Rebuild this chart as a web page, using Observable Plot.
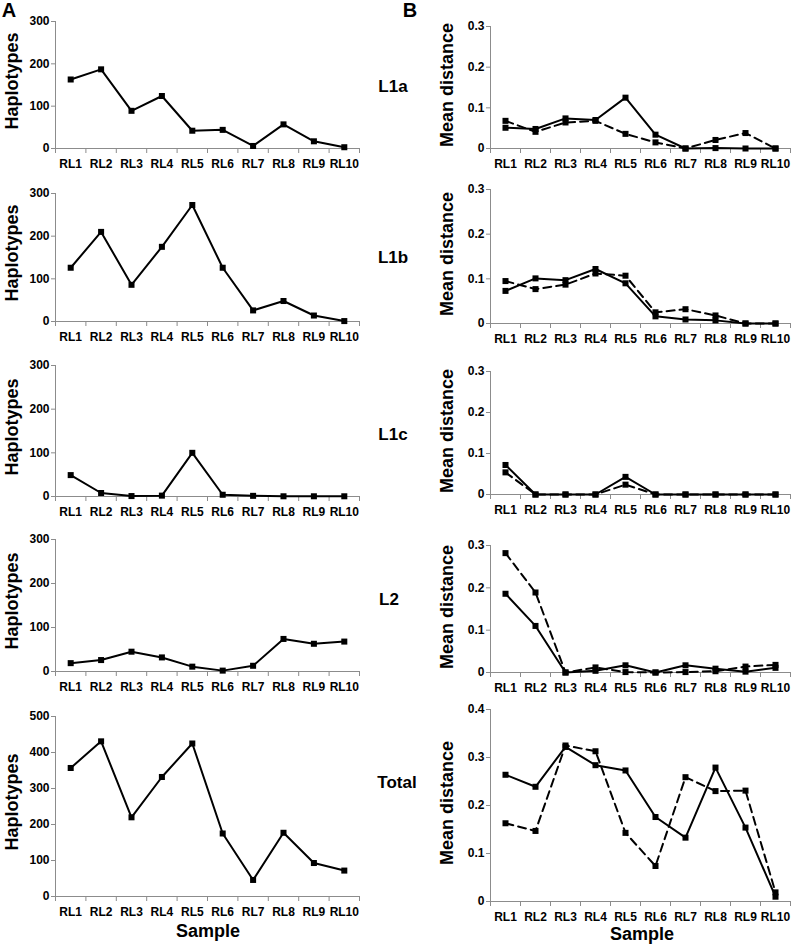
<!DOCTYPE html>
<html>
<head>
<meta charset="utf-8">
<script src="https://cdn.jsdelivr.net/npm/d3@7"></script>
<script src="https://cdn.jsdelivr.net/npm/@observablehq/plot@0.6"></script>
<style>
  html, body { margin: 0; padding: 0; background: #fff; }
  #wrap { position: relative; width: 800px; height: 944px; font-family: "Liberation Sans", Arial, sans-serif; font-weight: bold; color: #000; }
  .lbl { position: absolute; white-space: nowrap; font-weight: bold; transform: translate(-50%, -50%); }
  .rot { transform: translate(-50%, -50%) rotate(-90deg); }
  svg { position: absolute; overflow: visible; }
</style>
</head>
<body>
<div id="wrap"></div>
<script>
// ---- Data ----
const samples = ["RL1","RL2","RL3","RL4","RL5","RL6","RL7","RL8","RL9","RL10"];
const groups = ["L1a","L1b","L1c","L2","Total"];

// Panel A: number of haplotypes
const hapL1a  = [163, 187, 89, 124, 42, 44, 6, 57, 17, 3];
const hapL1b  = [126, 210, 86, 175, 273, 126, 26, 48, 14, 1];
const hapL1c  = [49, 8, 1, 2, 100, 4, 1.5, 0.5, 0.5, 0.5];
const hapL2   = [19, 26, 45, 32, 11, 2, 13, 74, 63, 68];
const hapTotal= [357, 431, 220, 332, 425, 175, 46, 177, 93, 72];

// Panel B: mean distance (solid and dashed series)
const distSolidL1a  = [0.051, 0.048, 0.074, 0.070, 0.125, 0.034, 0, 0.001, 0, 0];
const distDashedL1a = [0.068, 0.041, 0.064, 0.068, 0.036, 0.015, 0, 0.021, 0.038, 0];
const distSolidL1b  = [0.073, 0.101, 0.097, 0.122, 0.090, 0.016, 0.009, 0.007, 0, 0];
const distDashedL1b = [0.095, 0.077, 0.087, 0.112, 0.107, 0.025, 0.032, 0.018, 0, 0];
const distSolidL1c  = [0.072, 0, 0, 0, 0.043, 0, 0, 0, 0, 0];
const distDashedL1c = [0.054, 0, 0, 0, 0.024, 0, 0, 0, 0, 0];
const distSolidL2   = [0.186, 0.110, 0, 0.004, 0.017, 0, 0.017, 0.009, 0.002, 0.011];
const distDashedL2  = [0.282, 0.189, 0, 0.012, 0.001, 0, 0.001, 0.003, 0.014, 0.018];
const distSolidTotal  = [0.264, 0.239, 0.322, 0.284, 0.273, 0.176, 0.133, 0.279, 0.154, 0.010];
const distDashedTotal = [0.163, 0.147, 0.325, 0.313, 0.143, 0.074, 0.259, 0.230, 0.231, 0.019];

const hapTicksStd = [0, 100, 200, 300];
const hapTicksTotal = [0, 100, 200, 300, 400, 500];
const distTicksStd = [0, 0.1, 0.2, 0.3];
const distTicksTotal = [0, 0.1, 0.2, 0.3, 0.4];

const hapSeries = [hapL1a, hapL1b, hapL1c, hapL2, hapTotal];
const solidSeries = [distSolidL1a, distSolidL1b, distSolidL1c, distSolidL2, distSolidTotal];
const dashedSeries = [distDashedL1a, distDashedL1b, distDashedL1c, distDashedL2, distDashedTotal];

// ---- Layout (pixel geometry of each panel) ----
const rowsA = [[21,148],[193,321],[365,496],[539,671],[716,896]];
const rowsB = [[26,148],[189,323],[371,494],[545,672],[709,901]];
const colA = {left: 0, x0: 55, x1: 359};
const colB = {left: 400, x0: 490, x1: 790};
const groupLabelY = [87, 258, 435, 600, 783];

const wrap = document.getElementById("wrap");
const FONT = "Liberation Sans, Arial, sans-serif";

function toRows(vals) { return vals.map((v, i) => ({i: i + 1, label: samples[i], v})); }

function panel(col, row, yTicks, seriesList) {
  const mt = 12, mb = 32;
  const [yTop, yBot] = row;
  const width = 400;
  const height = (yBot - yTop) + mt + mb;
  const marks = [
    Plot.axisY({ticks: yTicks, tickSize: 4, tickPadding: 2, stroke: "#8c8c8c", fill: "#000",
      fontSize: 12, fontWeight: "bold", label: null, tickFormat: d => String(d)}),
    Plot.axisX({ticks: d3.range(0.5, 11, 1), tickSize: 5, tickFormat: () => "", stroke: "#8c8c8c", label: null}),
    Plot.axisX({ticks: d3.range(1, 11), tickSize: 0, tickPadding: 11, fill: "#000", fontSize: 12,
      fontWeight: "bold", tickFormat: d => samples[d - 1], label: null}),
    Plot.ruleX([0.5], {y1: 0, y2: yTicks[yTicks.length - 1], stroke: "#8c8c8c", strokeWidth: 1}),
    Plot.ruleY([0], {x1: 0.5, x2: 10.5, stroke: "#8c8c8c", strokeWidth: 1.2})
  ];
  for (const s of seriesList) {
    const data = toRows(s.values);
    marks.push(Plot.line(data, {x: "i", y: "v", stroke: "#000", strokeWidth: 2,
      strokeDasharray: s.dashed ? "8,5" : null}));
    marks.push(Plot.dot(data, {x: "i", y: "v", symbol: "square", r: 3.4, fill: "#000", stroke: "none"}));
  }
  const svg = Plot.plot({
    width, height,
    marginLeft: col.x0 - col.left,
    marginRight: col.left + width - col.x1,
    marginTop: mt, marginBottom: mb,
    style: {fontFamily: FONT, fontWeight: "bold", fontSize: "12px", background: "transparent", overflow: "visible"},
    x: {type: "linear", domain: [0.5, 10.5]},
    y: {domain: [0, yTicks[yTicks.length - 1]]},
    marks
  });
  svg.style.left = col.left + "px";
  svg.style.top = (yTop - mt) + "px";
  wrap.appendChild(svg);
}

function label(text, x, y, size, rotate) {
  const d = document.createElement("div");
  d.className = "lbl" + (rotate ? " rot" : "");
  d.textContent = text;
  d.style.left = x + "px";
  d.style.top = y + "px";
  d.style.fontSize = size + "px";
  wrap.appendChild(d);
}

groups.forEach((g, k) => {
  const isTotal = g === "Total";
  panel(colA, rowsA[k], isTotal ? hapTicksTotal : hapTicksStd, [{values: hapSeries[k], dashed: false}]);
  panel(colB, rowsB[k], isTotal ? distTicksTotal : distTicksStd,
    [{values: dashedSeries[k], dashed: true}, {values: solidSeries[k], dashed: false}]);
  label("Haplotypes", 12, (rowsA[k][0] + rowsA[k][1]) / 2 - 4, 18, true);
  label("Mean distance", 447, (rowsB[k][0] + rowsB[k][1]) / 2 - 2, 18, true);
  label(g, 378 + (g === "Total" ? 19 : g === "L2" ? 11 : 15), groupLabelY[k], 17, false);
});

label("A", 9, 10, 20, false);
label("B", 410, 10, 20, false);
label("Sample", 208, 931, 18, false);
label("Sample", 642, 934, 18, false);
</script>
</body>
</html>
